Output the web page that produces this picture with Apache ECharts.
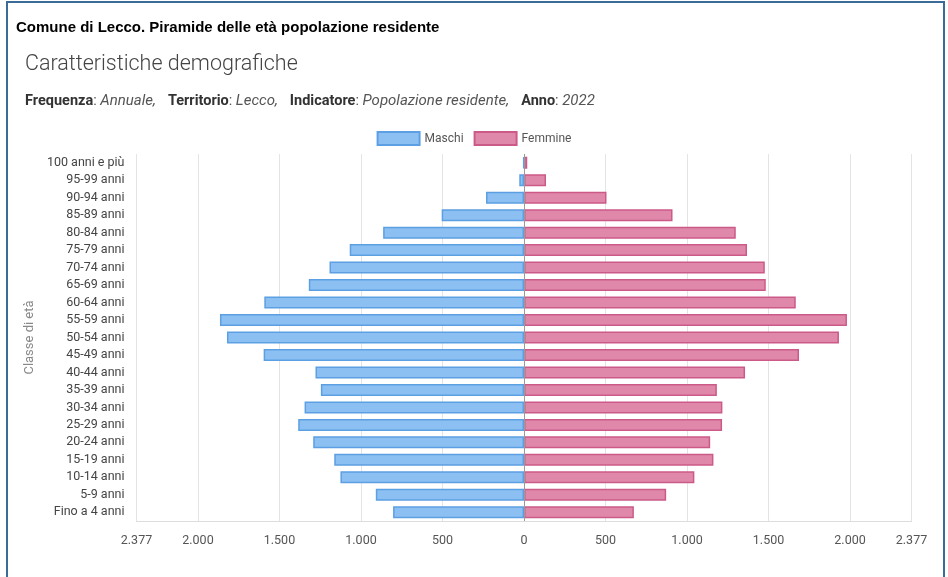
<!DOCTYPE html>
<html>
<head>
<meta charset="utf-8">
<title>Comune di Lecco. Piramide delle età popolazione residente</title>
<script src="https://cdn.jsdelivr.net/npm/echarts@6/dist/echarts.min.js"></script>
<style>
  html, body { margin: 0; padding: 0; background: #ffffff; }
  #chart { width: 948px; height: 577px; }
</style>
</head>
<body>
<div id="chart"></div>
<script>
// Age classes, youngest at the bottom of the pyramid
const categories = [
  'Fino a 4 anni', '5-9 anni', '10-14 anni', '15-19 anni', '20-24 anni',
  '25-29 anni', '30-34 anni', '35-39 anni', '40-44 anni', '45-49 anni',
  '50-54 anni', '55-59 anni', '60-64 anni', '65-69 anni', '70-74 anni',
  '75-79 anni', '80-84 anni', '85-89 anni', '90-94 anni', '95-99 anni',
  '100 anni e più'
];

// Resident population by sex, Lecco 2022
const maschi = [
  803, 909, 1126, 1164, 1293,
  1385, 1346, 1246, 1279, 1597,
  1822, 1865, 1593, 1320, 1193,
  1069, 864, 505, 233, 29,
  4
];
const femmine = [
  674, 872, 1045, 1162, 1142,
  1215, 1217, 1183, 1356, 1687,
  1932, 1981, 1667, 1483, 1477,
  1368, 1299, 911, 506, 135,
  20
];

// Symmetric value axis: 20% headroom over the largest class
const axisLimit = 2377;

const fmt = v => Math.abs(Math.round(v)).toString().replace(/\B(?=(\d{3})+(?!\d))/g, '.');

const chart = echarts.init(document.getElementById('chart'), null, { renderer: 'canvas' });

chart.setOption({
  animation: false,
  backgroundColor: '#ffffff',
  textStyle: { fontFamily: 'Roboto, "Noto Sans", sans-serif' },
  title: [
    {
      text: 'Comune di Lecco. Piramide delle età popolazione residente',
      left: 11, top: 15,
      textStyle: {
        fontFamily: '"Liberation Sans Narrow", "Arial Narrow", "Liberation Sans", sans-serif',
        fontWeight: 'bold', fontSize: 15, color: '#000000'
      }
    },
    {
      text: 'Caratteristiche demografiche',
      left: 20, top: 49,
      textStyle: { fontFamily: 'Roboto', fontWeight: 300, fontSize: 21.5, color: '#444444' }
    },
    {
      text: '{b|Frequenza}{n|: }{i|Annuale,}{g|}{b|Territorio}{n|: }{i|Lecco,}{g|}{b|Indicatore}{n|: }{i|Popolazione residente,}{g|}{b|Anno}{n|: }{i|2022}',
      left: 20, top: 89,
      textStyle: {
        fontSize: 14.5,
        fontWeight: 'normal',
        rich: {
          b: { fontFamily: 'Roboto', fontWeight: 'bold', fontSize: 14.5, color: '#333333' },
          n: { fontFamily: 'Roboto', fontWeight: 'normal', fontSize: 14.5, color: '#555555' },
          i: { fontFamily: 'Roboto', fontStyle: 'italic', fontWeight: 'normal', fontSize: 15, color: '#555555' },
          g: { width: 12 }
        }
      }
    }
  ],
  graphic: [
    {
      type: 'rect',
      silent: true,
      shape: { x: 7, y: 2, width: 937, height: 600 },
      style: { fill: 'none', stroke: '#3d6b99', lineWidth: 2 }
    }
  ],
  legend: {
    top: 126,
    left: 'center',
    itemWidth: 42,
    itemHeight: 13,
    itemGap: 10,
    icon: 'rect',
    textStyle: { fontFamily: 'Roboto', fontSize: 12, color: '#555555' },
    data: ['Maschi', 'Femmine']
  },
  grid: { left: 136.5, right: 36.5, top: 154, bottom: 56, containLabel: false },
  xAxis: {
    type: 'value',
    min: -axisLimit,
    max: axisLimit,
    splitNumber: 10,
    axisLine: { show: true, lineStyle: { color: '#dddddd', width: 1 } },
    axisTick: { show: false },
    axisLabel: {
      formatter: fmt,
      color: '#555555',
      fontSize: 12.5,
      margin: 13,
      showMinLabel: true,
      showMaxLabel: true
    },
    splitLine: { show: true, lineStyle: { color: '#e4e4e4', width: 1 } }
  },
  yAxis: {
    type: 'category',
    data: categories,
    name: 'Classe di età',
    nameLocation: 'middle',
    nameGap: 100,
    nameRotate: 90,
    nameTextStyle: { color: '#888888', fontSize: 13, fontFamily: 'Roboto' },
    axisLine: { show: false },
    axisTick: { show: false },
    axisLabel: { color: '#444444', fontSize: 12.5, margin: 12 },
    splitLine: { show: false }
  },
  series: [
    {
      name: 'Maschi',
      type: 'bar',
      barWidth: 12,
      barGap: '-100%',
      data: maschi.map(v => -v),
      itemStyle: { color: '#8cc0f2', borderColor: '#5c9fe2', borderWidth: 1.5 },
      markLine: {
        silent: true,
        symbol: 'none',
        label: { show: false },
        lineStyle: { color: '#9a9a9a', width: 1, type: 'solid' },
        data: [{ xAxis: 0 }]
      }
    },
    {
      name: 'Femmine',
      type: 'bar',
      barWidth: 12,
      barGap: '-100%',
      data: femmine,
      itemStyle: { color: '#e088aa', borderColor: '#cc5a88', borderWidth: 1.5 }
    }
  ]
});
</script>
</body>
</html>
